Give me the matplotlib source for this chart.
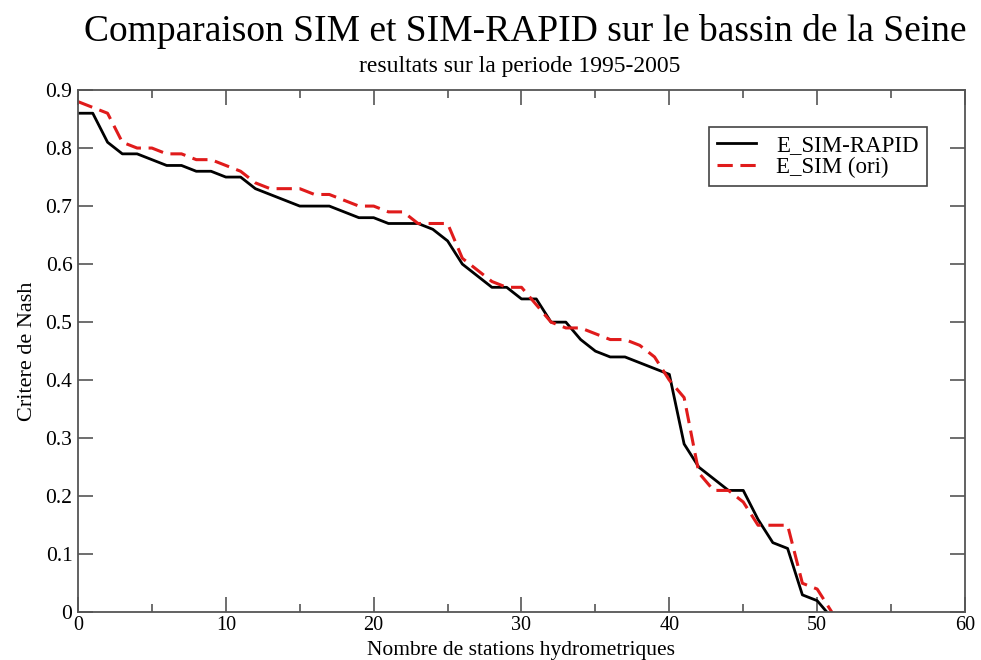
import matplotlib
matplotlib.use("Agg")
from matplotlib import pyplot as plt
from matplotlib.ticker import MultipleLocator, FuncFormatter

# nombre de stations (rang) et critere de Nash pour chaque simulation
stations = list(range(52))
nash_rapid = [0.86, 0.86, 0.81, 0.79, 0.79, 0.78, 0.77, 0.77, 0.76, 0.76,
              0.75, 0.75, 0.73, 0.72, 0.71, 0.70, 0.70, 0.70, 0.69, 0.68,
              0.68, 0.67, 0.67, 0.67, 0.66, 0.64, 0.60, 0.58, 0.56, 0.56,
              0.54, 0.54, 0.50, 0.50, 0.47, 0.45, 0.44, 0.44, 0.43, 0.42,
              0.41, 0.29, 0.25, 0.23, 0.21, 0.21, 0.16, 0.12, 0.11, 0.03,
              0.02, -0.01]
nash_ori = [0.88, 0.87, 0.86, 0.81, 0.80, 0.80, 0.79, 0.79, 0.78, 0.78,
            0.77, 0.76, 0.74, 0.73, 0.73, 0.73, 0.72, 0.72, 0.71, 0.70,
            0.70, 0.69, 0.69, 0.67, 0.67, 0.67, 0.61, 0.59, 0.57, 0.56,
            0.56, 0.53, 0.50, 0.49, 0.49, 0.48, 0.47, 0.47, 0.46, 0.44,
            0.40, 0.37, 0.24, 0.21, 0.21, 0.19, 0.15, 0.15, 0.15, 0.05,
            0.04, 0.00]

plt.rcParams['font.family'] = ['Liberation Serif', 'DejaVu Serif']

fig = plt.figure(figsize=(9.81, 6.6), dpi=100)
ax = fig.add_axes([0.0795, 0.0723, 0.9042, 0.7913])

ax.plot(stations, nash_rapid, color="black", linewidth=2.0, label="E_SIM-RAPID")
ax.plot(stations, nash_ori, color="#e01b1b", linewidth=2.2, dashes=(5, 2.5),
        label="E_SIM (ori)")

ax.set_xlim(0, 60)
ax.set_ylim(0, 0.9)
ax.xaxis.set_major_locator(MultipleLocator(10))
ax.xaxis.set_minor_locator(MultipleLocator(5))
ax.yaxis.set_major_locator(MultipleLocator(0.1))
ax.yaxis.set_major_formatter(FuncFormatter(lambda v, p: "0" if abs(v) < 1e-9 else "%g" % round(v, 1)))

ax.tick_params(which="both", direction="in", top=True, right=True,
               color="#555555", width=1.2)
ax.tick_params(which="major", length=11)
ax.tick_params(axis="x", which="major", pad=3, labelsize=14.5)
ax.tick_params(axis="y", which="major", pad=4, labelsize=15.5)
ax.tick_params(which="minor", length=5.5)
for s in ax.spines.values():
    s.set_color("#555555")
    s.set_linewidth(1.3)

ax.set_xlabel("Nombre de stations hydrometriques", fontsize=15.5, va="baseline")
ax.xaxis.set_label_coords(0.5, -0.0815)
ax.set_ylabel("Critere de Nash", fontsize=16, labelpad=6)

fig.text(0.535, 0.938, "Comparaison SIM et SIM-RAPID sur le bassin de la Seine",
         ha="center", va="baseline", fontsize=27)
fig.text(0.530, 0.891, "resultats sur la periode 1995-2005",
         ha="center", va="baseline", fontsize=17)

leg = ax.legend(loc="upper right", bbox_to_anchor=(0.957, 0.929), fontsize=16.5,
                fancybox=False, framealpha=1, edgecolor="#444444",
                handlelength=1.7, handletextpad=0.9, borderpad=0.35,
                labelspacing=0.05, borderaxespad=0)
leg.get_frame().set_linewidth(1.2)

fig.savefig("out.png", dpi=100)
